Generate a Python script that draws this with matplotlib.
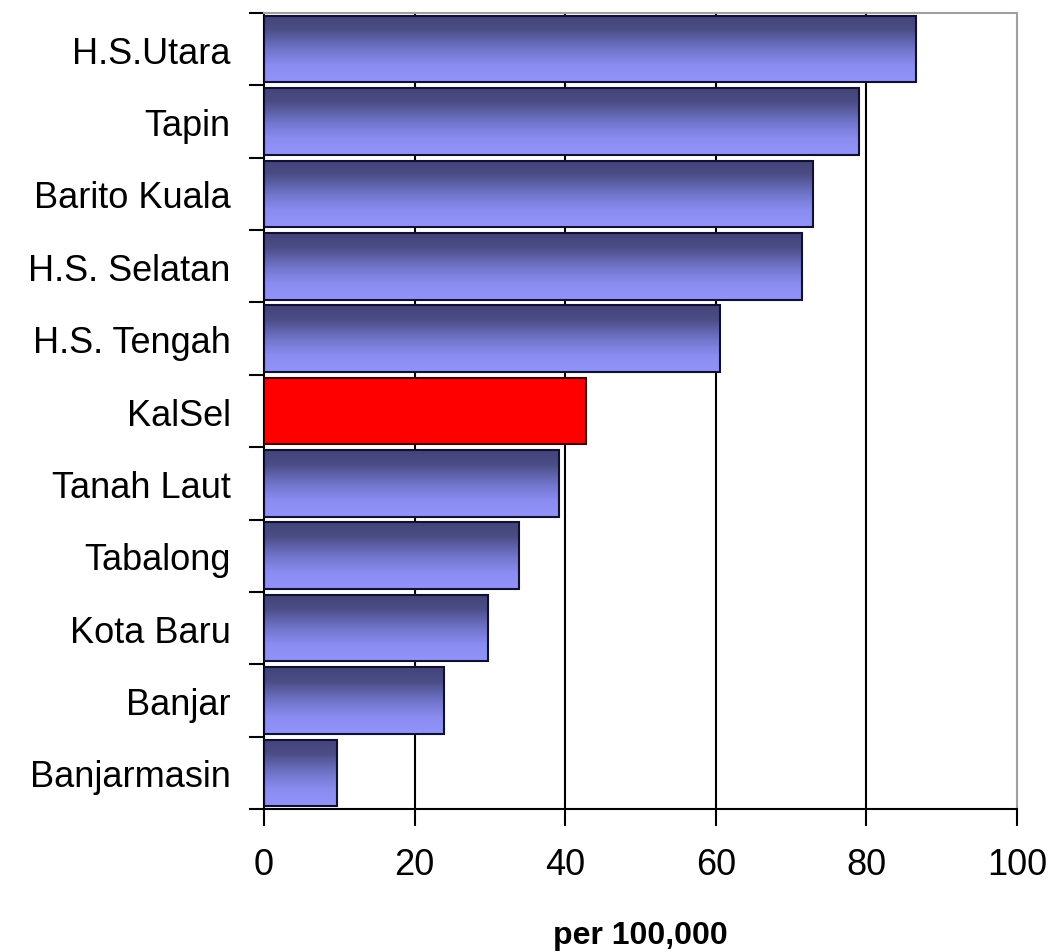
import matplotlib.pyplot as plt
import matplotlib.colors as mcolors
import numpy as np

# Datos del gráfico (de arriba hacia abajo)
regions = ['H.S.Utara', 'Tapin', 'Barito Kuala', 'H.S. Selatan', 'H.S. Tengah',
           'KalSel', 'Tanah Laut', 'Tabalong', 'Kota Baru', 'Banjar', 'Banjarmasin']
values = [86.6, 79.0, 72.9, 71.5, 60.5, 42.7, 39.2, 33.9, 29.7, 23.9, 9.7]
highlight = 'KalSel'
x_ticks = [0, 20, 40, 60, 80, 100]
x_label = 'per 100,000'

plt.rcParams['font.family'] = ['Liberation Sans', 'DejaVu Sans']

fig = plt.figure(figsize=(10.53, 9.53), dpi=100)
ax = fig.add_axes([0.2507, 0.15, 0.7151, 0.8353])

y = np.arange(len(regions))
bars = ax.barh(y, values, height=0.92, color='none', edgecolor='#101030',
               linewidth=1.5, zorder=3)

# Degradado vertical: oscuro arriba, claro abajo
grad_cmap = mcolors.LinearSegmentedColormap.from_list(
    'grad', [(0.0, '#44447a'), (0.2, '#4a4c84'), (0.5, '#7074c8'),
             (0.75, '#8a8cf0'), (1.0, '#9294fa')])
grad = np.linspace(0, 1, 128).reshape(-1, 1)

for bar, name in zip(bars, regions):
    x0, y0 = bar.get_x(), bar.get_y()
    w, h = bar.get_width(), bar.get_height()
    if name == highlight:
        bar.set_facecolor('#ff0000')
        bar.set_edgecolor('#400000')
        continue
    im = ax.imshow(grad, cmap=grad_cmap, aspect='auto', origin='upper',
                   extent=[x0, x0 + w, y0 + h, y0], zorder=2,
                   interpolation='bilinear')
    im.set_clip_path(bar)

ax.set_xlim(0, 100)
ax.set_ylim(len(regions) - 0.5, -0.5)

ax.set_yticks(y)
ax.set_yticklabels(regions, fontsize=26, va='center_baseline')
ax.set_yticks(np.arange(len(regions) + 1) - 0.5, minor=True)
ax.tick_params(axis='y', which='major', length=0, pad=24)
ax.tick_params(axis='y', which='minor', length=11, width=1.5, color='black')

ax.set_xticks(x_ticks)
ax.set_xticklabels([str(t) for t in x_ticks], fontsize=26)
ax.tick_params(axis='x', length=12, width=1.5, pad=15)

for t in x_ticks[1:-1]:
    ax.axvline(t, color='black', linewidth=1.5, zorder=1)

for side in ['left', 'bottom']:
    ax.spines[side].set_linewidth(1.5)
    ax.spines[side].set_color('black')
for side in ['top', 'right']:
    ax.spines[side].set_linewidth(1.5)
    ax.spines[side].set_color('#a0a0a0')

ax.set_xlabel(x_label, fontsize=23, fontweight='bold', labelpad=28,
              family=['Liberation Sans Narrow', 'Liberation Sans', 'DejaVu Sans'])

plt.savefig('out.png', dpi=100)
